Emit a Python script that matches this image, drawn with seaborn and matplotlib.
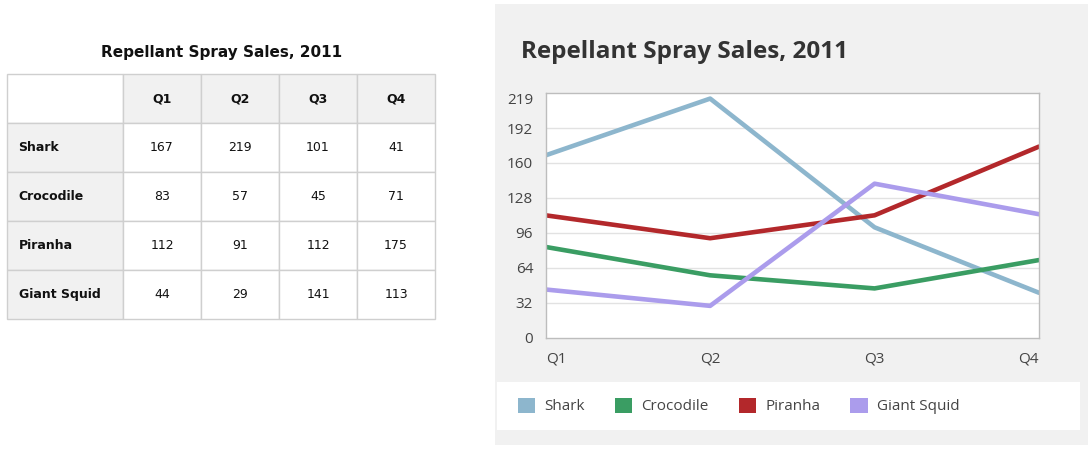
import matplotlib
matplotlib.use("Agg")
import matplotlib.pyplot as plt
import matplotlib.patches as mpatches
import seaborn as sns
import pandas as pd

# data
quarters = ["Q1", "Q2", "Q3", "Q4"]
species = ["Shark", "Crocodile", "Piranha", "Giant Squid"]
shark = [167, 219, 101, 41]
crocodile = [83, 57, 45, 71]
piranha = [112, 91, 112, 175]
giant_squid = [44, 29, 141, 113]
y_ticks = [0, 32, 64, 96, 128, 160, 192, 219]
colors = ["#8db6cd", "#3a9d63", "#b3282b", "#ab9cec"]
title = "Repellant Spray Sales, 2011"

values = [shark, crocodile, piranha, giant_squid]
df = pd.DataFrame({
    "quarter": [i for _ in species for i in range(len(quarters))],
    "sales": [v for row in values for v in row],
    "species": [s for s in species for _ in quarters],
})

sns.set_theme(style="white")
plt.rcParams["font.family"] = ["Open Sans", "DejaVu Sans"]

fig = plt.figure(figsize=(10.88, 4.49), dpi=100)
fig.patch.set_facecolor("white")

# right panel background + legend band
fig.add_artist(mpatches.Rectangle((495 / 1088, 4 / 449), 593 / 1088, 441 / 449,
                                  transform=fig.transFigure, facecolor="#f1f1f1",
                                  edgecolor="none", zorder=0))
fig.add_artist(mpatches.Rectangle((497 / 1088, 19 / 449), 583 / 1088, 48 / 449,
                                  transform=fig.transFigure, facecolor="white",
                                  edgecolor="none", zorder=0))

# ---- table ----
tax = fig.add_axes([7 / 1088, 130 / 449, 428 / 1088, 245 / 449])
tax.axis("off")
cell_text = [[""] + quarters] + [[s] + [str(v) for v in row] for s, row in zip(species, values)]
tbl = tax.table(cellText=cell_text, bbox=[0, 0, 1, 1],
                colWidths=[116 / 428] + [78 / 428] * 4)
tbl.auto_set_font_size(False)
for (r, c), cell in tbl.get_celld().items():
    cell.set_edgecolor("#cfcfcf")
    cell.set_linewidth(1)
    txt = cell.get_text()
    txt.set_fontfamily("DejaVu Sans")
    txt.set_fontsize(9)
    txt.set_color("#111111")
    if r == 0 and c == 0:
        cell.set_facecolor("white")
    elif r == 0 or c == 0:
        cell.set_facecolor("#f1f1f1")
        txt.set_fontweight("bold")
    else:
        cell.set_facecolor("white")
    if c == 0:
        cell.set_text_props(ha="left")
        cell.PAD = 0.1
    else:
        txt.set_ha("center")
fig.text(222 / 1088, 1 - 53 / 449, title, ha="center", va="center",
         fontsize=11, fontweight="bold", family="DejaVu Sans", color="#111111")

# ---- line chart ----
ax = fig.add_axes([545.7 / 1088, 1 - 337.5 / 449, 493.3 / 1088, 244.8 / 449])
sns.lineplot(data=df, x="quarter", y="sales", hue="species", hue_order=species,
             palette=colors, linewidth=3.3, legend=False, ax=ax)
ax.set_xlim(0, 3)
ax.set_ylim(0, 224.4)
ax.set_facecolor("white")
ax.set_yticks(y_ticks)
ax.set_yticklabels([str(t) for t in y_ticks])
ax.set_xticks(range(len(quarters)))
ax.set_xticklabels(quarters)
for t in y_ticks[1:-1]:
    ax.axhline(t, color="#e2e2e2", linewidth=1, zorder=0)
ax.set_xlabel("")
ax.set_ylabel("")
for sp in ax.spines.values():
    sp.set_color("#bdbdbd")
    sp.set_linewidth(1)
ax.tick_params(axis="both", length=0, labelsize=11, colors="#444444")
ax.tick_params(axis="y", pad=9)
ax.tick_params(axis="x", pad=10)
xl = ax.get_xticklabels()
xl[0].set_ha("left")
xl[-1].set_ha("right")

fig.text(521 / 1088, 1 - 52 / 449, title, ha="left", va="center",
         fontsize=17.5, fontweight="bold", color="#333333")

handles = [mpatches.Patch(facecolor=c, edgecolor="none", label=s)
           for s, c in zip(species, colors)]
fig.legend(handles=handles, loc="center left", ncol=4, frameon=False,
           bbox_to_anchor=(504 / 1088, 1 - 406 / 449), fontsize=11,
           handlelength=1.15, handleheight=1.15, handletextpad=0.6,
           columnspacing=1.95, labelcolor="#444444")

fig.savefig("out.png", dpi=100)
